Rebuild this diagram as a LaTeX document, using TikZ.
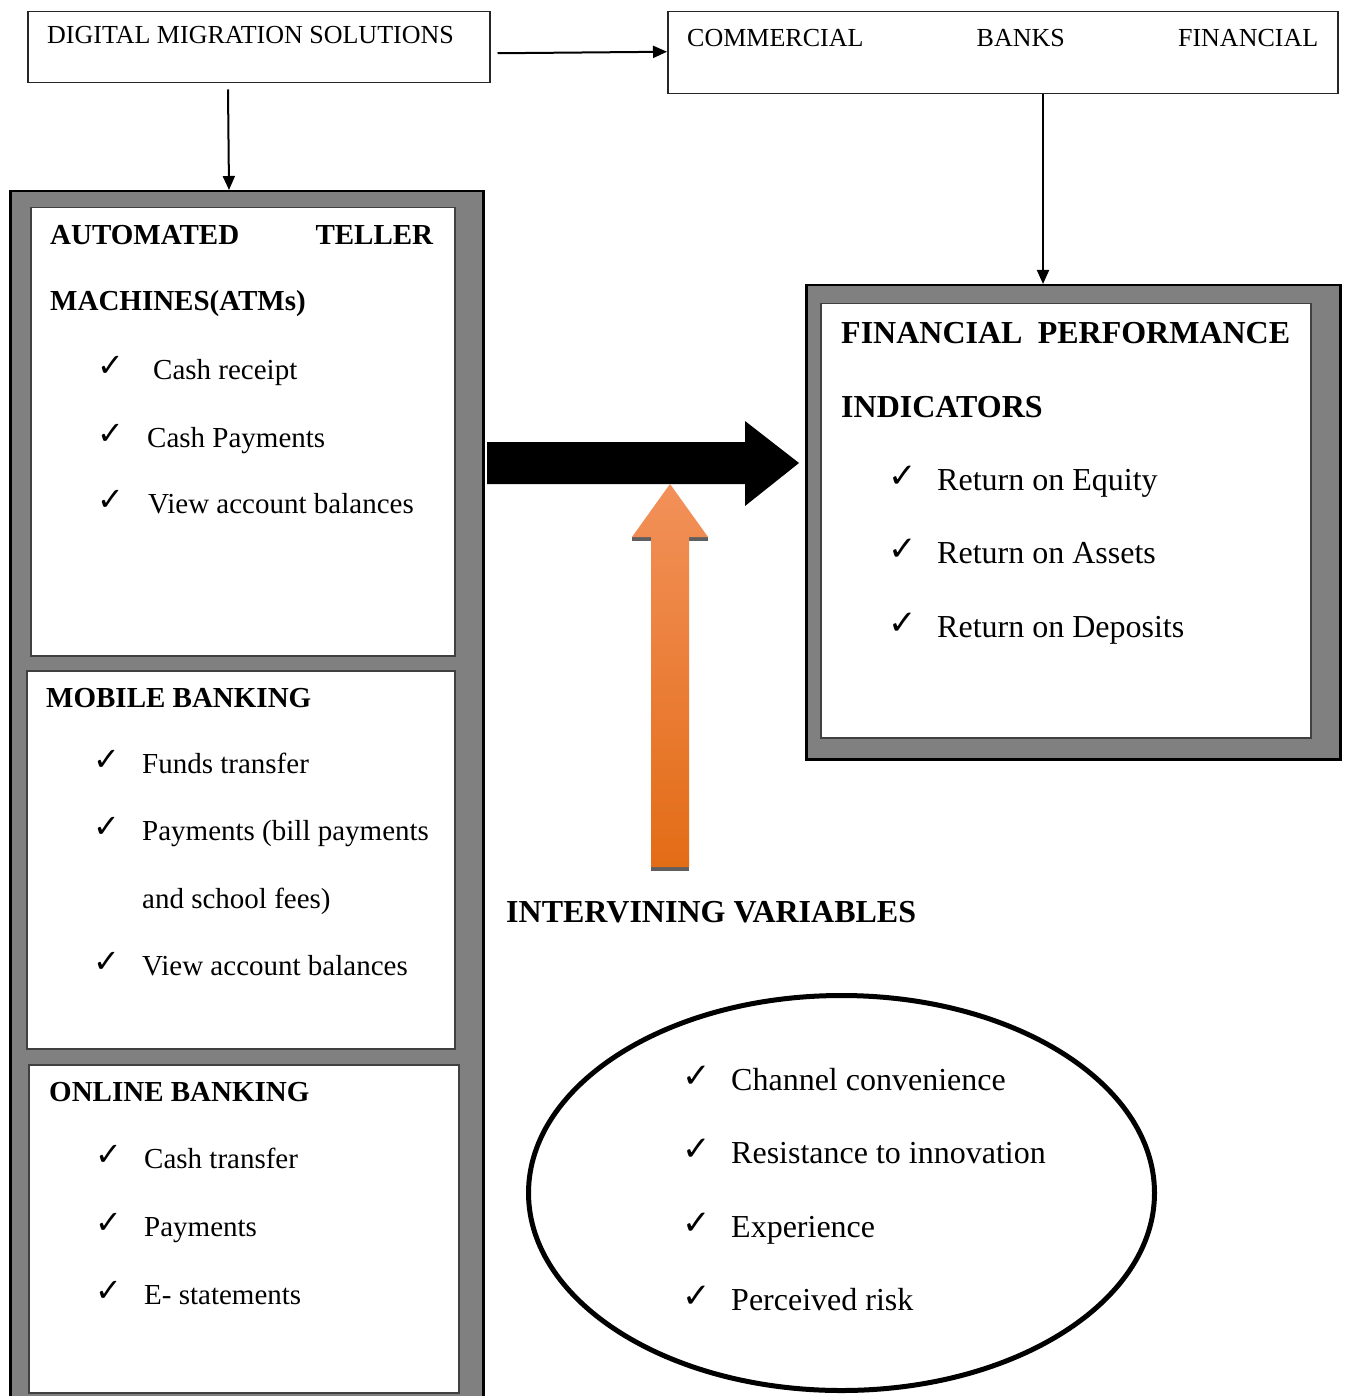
\documentclass[tikz,border=0pt]{standalone}
\usepackage{fontspec}
\setmainfont{Liberation Serif}
\newfontfamily\dejavu{DejaVu Sans}
\usetikzlibrary{arrows.meta,calc,shapes.geometric}
\definecolor{frgray}{HTML}{808080}
\definecolor{orlight}{HTML}{F2915A}
\definecolor{ordark}{HTML}{E36C16}
\definecolor{shadowgray}{HTML}{5F5F5F}
\begin{document}
\begin{tikzpicture}[x=1pt,y=-1pt,
 topbox/.style={draw=black!85, line width=1.5pt, fill=white, inner sep=0, anchor=north west},
 frame/.style={draw=black, line width=2.5pt, fill=frgray, inner sep=0, anchor=north west},
 inbox/.style={draw=black!75, line width=1.5pt, fill=white, inner sep=0, anchor=north west},
 conn/.style={line width=2pt, -{Triangle[length=14pt,width=12pt]}},
 ttop/.style={font=\fontsize{26}{30}\selectfont, anchor=base west, inner sep=0},
 tl/.style={font=\fontsize{29}{34}\selectfont, anchor=base west, inner sep=0},
 tlb/.style={font=\fontsize{29}{34}\selectfont\bfseries, anchor=base west, inner sep=0},
 tr/.style={font=\fontsize{32}{38}\selectfont, anchor=base west, inner sep=0},
 trb/.style={font=\fontsize{32}{38}\selectfont\bfseries, anchor=base west, inner sep=0},
 ckl/.style={font=\dejavu\fontsize{32}{36}\selectfont, anchor=base west, inner sep=0},
 ckr/.style={font=\dejavu\fontsize{34}{38}\selectfont, anchor=base west, inner sep=0},
]
\clip (0,0) rectangle (1344,1396);
\fill[white] (0,0) rectangle (1344,1396);

% top boxes
\node[topbox, minimum width=462pt, minimum height=71pt] (dms) at (27,11) {};
\node[ttop] (dmst) at (47,44) {DIGITAL MIGRATION SOLUTIONS};
\node[topbox, minimum width=670pt, minimum height=82pt] (cb) at (667,11) {};
\node[ttop] (cbt) at (687,47) {\hbox to 631pt{COMMERCIAL\hfill BANKS\hfill FINANCIAL}};

% left frame
\node[frame, minimum width=473pt, minimum height=1240pt] (lf) at (9,190) {};

% ATM box
\node[inbox, minimum width=424pt, minimum height=448pt] (atm) at (30,207) {};
\node[tlb] (atmh1) at (50,245) {\hbox to 383pt{AUTOMATED\hfill TELLER}};
\node[tlb] (atmh2) at (50,311) {MACHINES(ATMs)};
\node[ckl] (ac1) at (97,376) {✓};
\node[tl] (a1) at (153,379) {Cash receipt};
\node[ckl] (ac2) at (97,444) {✓};
\node[tl] (a2) at (147,447) {Cash Payments};
\node[ckl] (ac3) at (97,510) {✓};
\node[tl] (a3) at (148,513) {View account balances};

% Mobile box
\node[inbox, minimum width=428pt, minimum height=378pt] (mob) at (26,670) {};
\node[tlb] (mobh) at (46,707) {MOBILE BANKING};
\node[ckl] (mc1) at (93,770) {✓};
\node[tl] (m1) at (142,773) {Funds transfer};
\node[ckl] (mc2) at (93,837) {✓};
\node[tl] (m2) at (142,840) {Payments (bill payments};
\node[tl] (m2b) at (142,908) {and school fees)};
\node[ckl] (mc3) at (93,972) {✓};
\node[tl] (m3) at (142,975) {View account balances};

% Online box
\node[inbox, minimum width=430pt, minimum height=328pt] (onl) at (28,1064) {};
\node[tlb] (onlh) at (49,1101) {ONLINE BANKING};
\node[ckl] (oc1) at (95,1165) {✓};
\node[tl] (o1) at (144,1168) {Cash transfer};
\node[ckl] (oc2) at (95,1233) {✓};
\node[tl] (o2) at (144,1236) {Payments};
\node[ckl] (oc3) at (95,1301) {✓};
\node[tl] (o3) at (144,1304) {E- statements};

% right frame
\node[frame, minimum width=534pt, minimum height=474pt] (rf) at (805,284) {};
\node[inbox, minimum width=490pt, minimum height=434pt] (fpi) at (820,303) {};
\node[trb] (fph1) at (841,343) {\hbox to 449pt{FINANCIAL\hfill PERFORMANCE}};
\node[trb] (fph2) at (841,417) {INDICATORS};
\node[ckr] (rc1) at (888,487) {✓};
\node[tr] (r1) at (937,490) {Return on Equity};
\node[ckr] (rc2) at (888,560) {✓};
\node[tr] (r2) at (937,563) {Return on Assets};
\node[ckr] (rc3) at (888,634) {✓};
\node[tr] (r3) at (937,637) {Return on Deposits};

% connectors
\draw[conn] ($(dms.south west)+(201,6)$) -- ($(lf.north west)+(220,0)$);
\draw[conn] ($(dms.east)+(7,6)$) -- ($(cb.west)+(0,-1)$);
\draw[conn] ($(cb.south west)+(376,0)$) -- ($(rf.north west)+(238,0)$);

% big black arrow
\fill[black] (487,442) -- (745,442) -- (745,421) -- (799,463) -- (745,506) -- (745,484) -- (487,484) -- cycle;

% orange arrow
\fill[shadowgray] (632,537) rectangle (651,541);
\fill[shadowgray] (689,537) rectangle (708,541);
\fill[shadowgray] (651,866) rectangle (689,871);
\shade[top color=orlight, bottom color=ordark] (651,867) -- (651,537) -- (632,537) -- (670,484) -- (708,537) -- (689,537) -- (689,867) -- cycle;

\node[trb] (ivt) at (506,922) {INTERVINING VARIABLES};

% ellipse
\node[draw, ellipse, line width=5pt, minimum width=626pt, minimum height=395pt, inner sep=0] (iv) at (841.5,1193) {};
\node[ckr] (ec1) at (682,1087) {✓};
\node[tr] (e1) at (731,1090) {Channel convenience};
\node[ckr] (ec2) at (682,1160) {✓};
\node[tr] (e2) at (731,1163) {Resistance to innovation};
\node[ckr] (ec3) at (682,1234) {✓};
\node[tr] (e3) at (731,1237) {Experience};
\node[ckr] (ec4) at (682,1307) {✓};
\node[tr] (e4) at (731,1310) {Perceived risk};
\end{tikzpicture}
\end{document}
